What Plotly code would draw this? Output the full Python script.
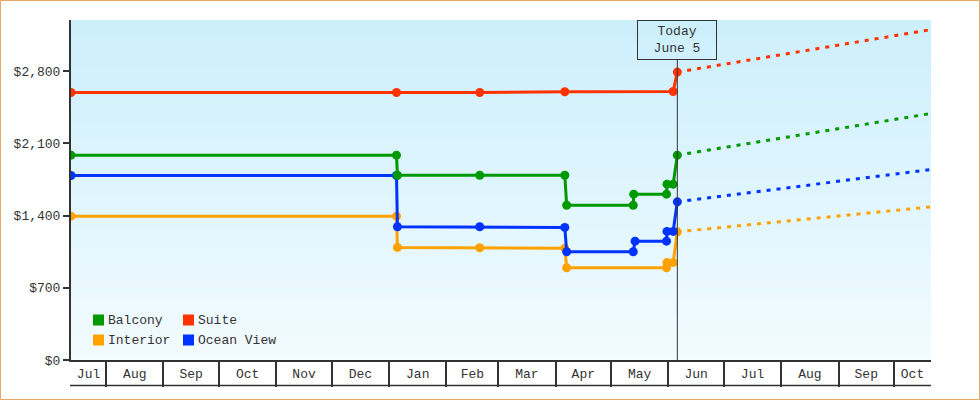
import plotly.graph_objects as go
import pandas as pd

# ---------------- data ----------------
today = "2025-06-05 20:00"
today_label = "Today<br>June 5"
proj_end = "2025-10-21"

balcony_dates = ["2024-07-13", "2025-01-05", "2025-01-05 12:00", "2025-02-19", "2025-04-06",
                 "2025-04-07", "2025-05-13", "2025-05-13 06:00", "2025-05-31", "2025-05-31 06:00",
                 "2025-06-03 14:00", today]
balcony_prices = [1985, 1985, 1790, 1790, 1790, 1500, 1500, 1607, 1607, 1704, 1704, 1985]

suite_dates = ["2024-07-13", "2025-01-05", "2025-02-19", "2025-04-06", "2025-06-03 14:00", today]
suite_prices = [2592, 2592, 2592, 2600, 2602, 2790]

interior_dates = ["2024-07-13", "2025-01-05", "2025-01-05 12:00", "2025-02-19", "2025-04-06",
                  "2025-04-07", "2025-05-31", "2025-05-31 06:00", "2025-06-03 14:00", today]
interior_prices = [1394, 1394, 1091, 1088, 1084, 894, 894, 944, 944, 1242]

ocean_dates = ["2024-07-13", "2025-01-05", "2025-01-05 12:00", "2025-02-19", "2025-04-06",
               "2025-04-07", "2025-05-13", "2025-05-14", "2025-05-31", "2025-05-31 06:00",
               "2025-06-03 14:00", today]
ocean_prices = [1788, 1788, 1291, 1291, 1285, 1049, 1049, 1152, 1152, 1246, 1246, 1533]

proj_dates = [today, proj_end]
balcony_proj = [1985, 2389]
suite_proj = [2790, 3202]
interior_proj = [1242, 1484]
ocean_proj = [1533, 1846]

month_starts = ["2024-08-01", "2024-09-01", "2024-10-01", "2024-11-01", "2024-12-01",
                "2025-01-01", "2025-02-01", "2025-03-01", "2025-04-01", "2025-05-01",
                "2025-06-01", "2025-07-01", "2025-08-01", "2025-09-01", "2025-10-01"]
month_labels = ["Jul", "Aug", "Sep", "Oct", "Nov", "Dec", "Jan", "Feb", "Mar", "Apr",
                "May", "Jun", "Jul", "Aug", "Sep", "Oct"]

y_ticks = [0, 700, 1400, 2100, 2800]
y_tick_labels = ["$0", "$700", "$1,400", "$2,100", "$2,800"]
y_max = 3295

series = [
    ("Balcony", "#009900", balcony_dates, balcony_prices, balcony_proj),
    ("Suite", "#ff3300", suite_dates, suite_prices, suite_proj),
    ("Interior", "#ffa200", interior_dates, interior_prices, interior_proj),
    ("Ocean View", "#0033ff", ocean_dates, ocean_prices, ocean_proj),
]

# ---------------- figure ----------------
FONT = "Liberation Mono"
TXT = "#333333"
W, H = 980, 400
ML, MR, MT, MB = 71, 49, 20, 40
PW, PH = W - ML - MR, H - MT - MB

x_start = pd.Timestamp(balcony_dates[0])
x_end = pd.Timestamp(proj_end)

fig = go.Figure()

order = [series[2], series[3], series[0], series[1]]
for name, color, d, p, pr in order:
    fig.add_trace(go.Scatter(x=proj_dates, y=pr, mode="lines",
                             line=dict(color=color, width=3, dash="4px,6px"),
                             showlegend=False, hoverinfo="skip"))
for name, color, d, p, pr in order:
    fig.add_trace(go.Scatter(x=d, y=p, mode="lines+markers", name=name,
                             line=dict(color=color, width=3),
                             marker=dict(color=color, size=9),
                             showlegend=False))

shapes = []
# gradient background (stacked, overlapping bands -> no seams)
n = 60
top = (204, 239, 252)
bot = (242, 251, 255)
for i in range(n):
    t = i / (n - 1)
    c = tuple(round(bot[k] + (top[k] - bot[k]) * t) for k in range(3))
    shapes.append(dict(type="rect", xref="x domain", yref="y domain",
                       x0=0, x1=1, y0=i / n, y1=1,
                       fillcolor="rgb(%d,%d,%d)" % c, line=dict(width=0), layer="below"))

# today line (below the label box)
shapes.append(dict(type="line", xref="x", yref="paper", x0=today, x1=today,
                   y0=0, y1=(PH - 40) / PH, line=dict(color=TXT, width=1)))
# bottom line of month band
shapes.append(dict(type="line", xref="paper", yref="paper", x0=-1 / PW, x1=1,
                   y0=-25.5 / PH, y1=-25.5 / PH, line=dict(color=TXT, width=1.5)))
# outer frame
shapes.append(dict(type="rect", xref="paper", yref="paper",
                   x0=(-ML + 0.5) / PW, x1=1 + (MR - 0.5) / PW,
                   y0=(-MB + 0.5) / PH, y1=1 + (MT - 0.5) / PH,
                   line=dict(color="#e6a865", width=1), layer="above"))

# month label positions: centre of visible portion of each month band
bounds = [x_start] + [pd.Timestamp(m) for m in month_starts] + [x_end]
mids = [bounds[i] + (bounds[i + 1] - bounds[i]) / 2 for i in range(len(bounds) - 1)]

annotations = [dict(x=today, y=1, xref="x", yref="paper", yanchor="top", xanchor="center",
                    text=today_label, showarrow=False, font=dict(family=FONT, size=13, color=TXT),
                    bordercolor=TXT, borderwidth=1, borderpad=2, width=74, height=34,
                    bgcolor="rgba(0,0,0,0)")]

# legend (manual, 2 columns)
leg = [(series[0], 0, 0), (series[1], 1, 0), (series[2], 0, 1), (series[3], 1, 1)]
for (name, color, *_), col, row in leg:
    x0 = 22 + col * 90
    yc = 40 - row * 20  # pixels above bottom of plot
    shapes.append(dict(type="rect", xref="paper", yref="paper",
                       x0=x0 / PW, x1=(x0 + 11) / PW,
                       y0=(yc - 5.5) / PH, y1=(yc + 5.5) / PH,
                       fillcolor=color, line=dict(width=0)))
    annotations.append(dict(x=(x0 + 13) / PW, y=yc / PH, xref="paper", yref="paper",
                            xanchor="left", yanchor="middle", text=name, showarrow=False,
                            font=dict(family=FONT, size=13, color=TXT)))

fig.update_layout(
    width=W, height=H,
    margin=dict(l=ML, r=MR, t=MT, b=MB, pad=0),
    paper_bgcolor="white", plot_bgcolor="rgba(0,0,0,0)",
    font=dict(family=FONT, size=13, color=TXT),
    shapes=shapes, annotations=annotations,
    showlegend=False,
    xaxis=dict(range=[x_start, x_end], showgrid=False, zeroline=False,
               showline=True, linecolor=TXT, linewidth=2,
               tickmode="array", tickvals=mids, ticktext=month_labels,
               ticks="", ticklabelstandoff=0,
               minor=dict(tickmode="array", tickvals=month_starts, ticks="outside",
                          ticklen=25, tickwidth=1.5, tickcolor=TXT, showgrid=False),
               tickfont=dict(family=FONT, size=13, color=TXT)),
    yaxis=dict(range=[0, y_max], showgrid=False, zeroline=False,
               showline=True, linecolor=TXT, linewidth=2,
               tickmode="array", tickvals=y_ticks, ticktext=y_tick_labels,
               ticks="outside", ticklen=6, tickwidth=2, tickcolor=TXT,
               tickfont=dict(family=FONT, size=13, color=TXT)),
)

fig.write_html("out.html")
